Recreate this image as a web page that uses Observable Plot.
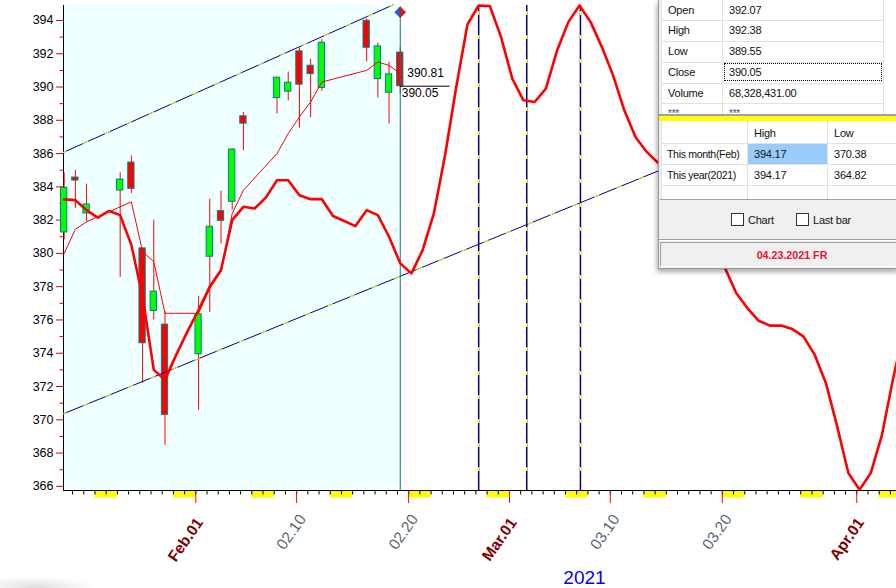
<!DOCTYPE html>
<html><head><meta charset="utf-8">
<script src="https://cdn.jsdelivr.net/npm/d3@7"></script>
<script src="https://cdn.jsdelivr.net/npm/@observablehq/plot@0.6"></script>
<style>
body{margin:0;overflow:hidden;background:#fff}
#wrap{position:relative;width:896px;height:588px;overflow:hidden;font-family:Arial,"Liberation Sans",sans-serif}
#chart{position:absolute;left:0;top:0}
#panel{position:absolute;left:0;top:0}
#shadow{position:absolute;left:0;top:572px;width:110px;height:16px;background:radial-gradient(ellipse 60px 12px at 35px 16px,rgba(0,0,0,.13),rgba(0,0,0,0))}
</style></head>
<body><div id="wrap"><div id="chart"></div><div id="shadow"></div><div id="panel"></div></div>
<script>
(function(){
const DAY = 864e5;
// ---------- data ----------
const candleDates = ["2021-01-20","2021-01-21","2021-01-22","2021-01-25","2021-01-26","2021-01-27","2021-01-28","2021-01-29","2021-02-01","2021-02-02","2021-02-03","2021-02-04","2021-02-05","2021-02-08","2021-02-09","2021-02-10","2021-02-11","2021-02-12","2021-02-16","2021-02-17","2021-02-18","2021-02-19"];
const openV  = [381.26,384.56,382.40,383.78,385.46,380.30,376.54,375.72,373.94,379.80,382.54,383.10,388.24,389.34,389.72,392.14,391.28,389.94,393.98,390.48,389.66,392.07];
const highV  = [384.84,385.00,384.16,384.84,385.86,380.30,382.00,376.50,377.40,383.26,383.74,386.30,388.48,390.60,390.90,392.34,391.66,392.86,394.10,392.64,391.48,392.38];
const lowV   = [380.80,382.70,381.90,378.56,383.60,372.20,376.00,368.46,370.56,376.44,380.56,382.60,386.16,388.38,389.16,387.54,388.16,389.74,391.50,389.34,387.78,389.55];
const closeV = [383.94,384.38,382.94,384.44,383.88,374.60,377.70,370.30,376.34,381.60,381.96,386.24,387.80,390.56,390.26,390.14,390.78,392.66,392.36,392.44,390.76,390.05];
const maValues = [380.0,381.45,381.9,382.8,383.1,380.1,379.5,376.4,376.4,377.9,378.9,382.4,383.8,386.0,387.2,388.2,389.1,390.3,391.0,391.5,391.3,390.81];
const forecastStart = "2021-01-20";
const forecastValues = [383.25,383.2,382.6,382.15,382.55,382.3,380.5,377.4,373.0,372.4,373.9,375.3,376.6,378.0,379.0,382.0,382.8,382.7,383.35,384.4,384.4,383.5,383.26,383.26,382.25,381.95,381.64,382.6,382.3,381.0,379.4,378.8,380.2,382.4,385.9,390.0,393.76,394.9,394.86,393.0,390.5,389.2,389.1,389.9,392.2,393.9,394.9,393.9,392.4,390.7,388.6,387.0,386.1,385.45,384.7,383.7,382.5,381.3,380.2,379.1,377.6,376.7,375.95,375.66,375.66,375.45,375.0,373.9,372.2,369.6,366.8,365.8,366.8,369.1,372.5,375.5];
const upperChannelDates = ["2021-01-20T00:00Z","2021-02-18T15:00Z"];
const upperChannelValues = [386.02,394.94];
const lowerChannelDates = ["2021-01-20T00:00Z","2021-03-16T00:00Z"];
const lowerChannelValues = [370.31,385.43];
const turnDates = ["2021-02-26T06:00Z","2021-03-02T13:00Z","2021-03-07T08:00Z"];
const markerValue = 394.5;
const maLabel = "390.81";
const closeLabel = "390.05";
const tickDates = ["2021-02-01","2021-02-10","2021-02-20","2021-03-01","2021-03-10","2021-03-20","2021-04-01"];
const tickLabels = ["Feb.01","02.10","02.20","Mar.01","03.10","03.20","Apr.01"];
const yMajor = [366,368,370,372,374,376,378,380,382,384,386,388,390,392,394];
const yMinor = [367,369,371,373,375,377,379,381,383,385,387,389,391,393];
const yearLabel = "2021";
const xDomain = [new Date("2021-01-20T04:35Z"), new Date("2021-04-04T13:06Z")];
const yDomain = [365.75, 394.96];
// ---------- build ----------
const barTime = s => new Date(s + "T06:00:00Z");
const candles = candleDates.map((d,i)=>({t: barTime(d), o: openV[i], h: highV[i], l: lowV[i], c: closeV[i], ma: maValues[i]}));
const up = candles.filter(d => d.c >= d.o), down = candles.filter(d => d.c < d.o);
const forecast = forecastValues.map((v,i)=>({t: new Date(+barTime(forecastStart) + i*DAY), v}));
const upper = upperChannelDates.map((d,i)=>({t:new Date(d), v:upperChannelValues[i]}));
const lower = lowerChannelDates.map((d,i)=>({t:new Date(d), v:lowerChannelValues[i]}));
const turns = turnDates.map(d=>new Date(d));
const last = candles[candles.length-1];
const days = d3.utcDay.range(d3.utcDay.ceil(xDomain[0]), xDomain[1]);
const sats = d3.utcSaturday.range(xDomain[0], xDomain[1]);
const ticks = tickDates.map((d,i)=>({t:new Date(d+"T00:00Z"), s:tickLabels[i], month: /[A-Za-z]/.test(tickLabels[i])}));
const NAVY = "#000080", YEL = "#ffff00", RED = "#ff0000", TEAL = "#008080";
const halfL = {draw(ctx,size){const r=Math.sqrt(size/Math.PI);ctx.moveTo(0,-r);ctx.lineTo(-r,0);ctx.lineTo(0,r);ctx.closePath();}};
const halfR = {draw(ctx,size){const r=Math.sqrt(size/Math.PI);ctx.moveTo(0,-r);ctx.lineTo(r,0);ctx.lineTo(0,r);ctx.closePath();}};

const chart = Plot.plot({
  width: 896, height: 588,
  marginLeft: 63, marginRight: 0, marginTop: 4, marginBottom: 98,
  x: {type: "utc", domain: xDomain, axis: null},
  y: {domain: yDomain},
  style: {fontFamily: "Arial, 'Liberation Sans', sans-serif", fontSize: "12px", background: "white", overflow: "hidden"},
  marks: [
    Plot.rect([last], {x1: () => xDomain[0], x2: d => d.t, fill: "#f0ffff"}),
    Plot.rect(sats, {x1: d => d, x2: d => d3.utcDay.offset(d, 2), fill: YEL, insetTop: 487, insetBottom: -7.5}),
    Plot.ruleX(days, {x: d => d, stroke: "#000", insetTop: 486, insetBottom: -4.5}),
    Plot.ruleX(ticks, {x: "t", stroke: RED, insetTop: 486, insetBottom: -13}),
    Plot.ruleY([yDomain[0]], {stroke: "#000"}),
    Plot.ruleX([xDomain[0]], {stroke: "#000", insetTop: 1}),
    Plot.axisY(yMajor, {anchor: "left", tickSize: 7, tickPadding: 3, stroke: "#e00000", fill: "#000", fontSize: 12.5, label: null}),
    Plot.axisY(yMinor, {anchor: "left", tickSize: 3.5, stroke: "#e00000", fill: "none", label: null}),
    // candles
    Plot.ruleX(candles, {x: "t", y1: "l", y2: "h", stroke: RED}),
    Plot.rect(up, {x1: d => new Date(+d.t - 0.28*DAY), x2: d => new Date(+d.t + 0.28*DAY), y1: "o", y2: "c", fill: "#00ff00", stroke: TEAL}),
    Plot.rect(down, {x1: d => new Date(+d.t - 0.28*DAY), x2: d => new Date(+d.t + 0.28*DAY), y1: "o", y2: "c", fill: RED, stroke: TEAL}),
    // channels
    Plot.line(upper, {x: "t", y: "v", stroke: NAVY, strokeWidth: 1, clip: true}),
    Plot.line(upper, {x: "t", y: "v", stroke: YEL, strokeWidth: 1, strokeDasharray: "5,19", clip: true}),
    Plot.line(lower, {x: "t", y: "v", stroke: NAVY, strokeWidth: 1, clip: true}),
    Plot.line(lower, {x: "t", y: "v", stroke: YEL, strokeWidth: 1, strokeDasharray: "5,19", clip: true}),
    Plot.ruleX(turns, {x: d => d, stroke: NAVY, strokeWidth: 1.5, insetTop: 1}),
    Plot.ruleX(turns, {x: d => d, stroke: YEL, strokeWidth: 1.5, strokeDasharray: "4,20", strokeDashoffset: -6, insetTop: 1}),
    // last bar marker
    Plot.ruleX([last], {x: "t", y1: markerValue, y2: yDomain[0], stroke: TEAL}),
    // lines
    Plot.line(candles, {x: "t", y: "ma", stroke: RED, strokeWidth: 1}),
    Plot.line(forecast, {x: "t", y: "v", stroke: RED, strokeWidth: 2.6, clip: true}),
    Plot.dot([last], {x: "t", y: () => markerValue, r: 5.5, symbol: halfL, fill: "#2a5fd8", stroke: "#1a3a90", strokeWidth: 0.6}),
    Plot.dot([last], {x: "t", y: () => markerValue, r: 5.5, symbol: halfR, fill: "#e01a1a", stroke: "#902020", strokeWidth: 0.6}),
    Plot.ruleY([last], {y: "c", x1: "t", x2: d => new Date(+d.t + 4.45*DAY), stroke: "#000"}),
    Plot.text([last], {x: "t", y: "ma", text: () => maLabel, dx: 7, textAnchor: "start", fontSize: 12, fill: "#000"}),
    Plot.text([last], {x: "t", y: "c", text: () => closeLabel, dx: 1.5, dy: 2.5, lineAnchor: "top", textAnchor: "start", fontSize: 12, fill: "#000"}),
    // x labels
    Plot.text(ticks.filter(d=>d.month), {x: "t", text: "s", frameAnchor: "bottom", dx: 8, dy: 32, rotate: -55, textAnchor: "end", lineAnchor: "bottom", fontSize: 15.5, fontWeight: "bold", fill: "#800000"}),
    Plot.text(ticks.filter(d=>!d.month), {x: "t", text: "s", frameAnchor: "bottom", dx: 10, dy: 28.5, rotate: -55, textAnchor: "end", lineAnchor: "bottom", fontSize: 15.5, fill: "#5a6672"}),
    Plot.text([yearLabel], {frameAnchor: "bottom-left", dx: 521, dy: 93, text: d => d, textAnchor: "middle", fontSize: 19, fill: "#0000ff"})
  ]
});
document.getElementById("chart").appendChild(chart);

// ---------- info panel ----------
const tableLabels = ["Open","High","Low","Close","Volume","***"];
const tableValues = ["392.07","392.38","389.55","390.05","68,328,431.00","***"];
const rangeHeader = ["","High","Low"];
const rangeRows = [["This month(Feb)","394.17","370.38"],["This year(2021)","394.17","364.82"]];
const statusText = "04.23.2021 FR";
const checkLabels = ["Chart","Last bar"];

const panel = document.getElementById("panel");
function box(x,y,w,h,style){const d=document.createElement("div");d.style.cssText=`position:absolute;left:${x}px;top:${y}px;width:${w}px;height:${h}px;${style||""}`;panel.appendChild(d);return d;}
function txt(x,yc,s,style){const d=document.createElement("div");d.textContent=s;d.style.cssText=`position:absolute;left:${x}px;top:${yc-8}px;height:16px;line-height:16px;white-space:nowrap;font-size:11px;letter-spacing:-0.22px;color:#111;${style||""}`;panel.appendChild(d);return d;}
box(658,0,240,268,"background:#f0f0f0;border-left:1px solid #9a9a9a;border-bottom:1px solid #9a9a9a;box-shadow:-1px 3px 5px rgba(0,0,0,.35)");
box(661,0,235,114,"background:#fff;overflow:hidden");
[20,41,62,82.5,103].forEach(y=>box(661,y,222,1,"background:#e2e2e2"));
[661,722,883].forEach(x=>box(x,0,1,114,"background:#e2e2e2"));
box(724,63,158,17.5,"border:1px dotted #000;box-sizing:border-box");
box(659,114,237,1.5,"background:#a0a0a0");
box(659,115.8,237,5,"background:#ffff00");
tableLabels.forEach((s,i)=>{
  const yc = 9.6 + 20.8*i;
  if (i===5){ txt(668,114,s,"color:#3a4a8a;font-size:10px"); txt(729,114,tableValues[i],"color:#3a4a8a;font-size:10px"); }
  else { txt(668,yc,s); txt(729,yc,tableValues[i]); }
});
box(661,121,235,78,"background:#fff");
box(748,144,79,20,"background:#99ccf9");
[143,164,185].forEach(y=>box(661,y,235,1,"background:#e2e2e2"));
[661,747,827].forEach(x=>box(x,121,1,78,"background:#e2e2e2"));
box(660,198.5,236,1.5,"background:#a0a0a0");
txt(754,133,rangeHeader[1]); txt(834,133,rangeHeader[2]);
rangeRows.forEach((r,i)=>{const yc=154+21*i; txt(667,yc,r[0],"font-size:10.6px;letter-spacing:-0.35px"); txt(754,yc,r[1]); txt(834,yc,r[2]);});
box(731,213,13,13,"border:1px solid #333;box-sizing:border-box;background:#fff");
box(796,213,13,13,"border:1px solid #333;box-sizing:border-box;background:#fff");
txt(748,219.5,checkLabels[0]); txt(813,219.5,checkLabels[1]);
box(659,239,237,1,"background:#a0a0a0"); box(659,240,237,1,"background:#fff");
box(660,242,236,23,"border-top:1px solid #a0a0a0;border-left:1px solid #a0a0a0;border-bottom:1px solid #fff;background:#f0f0f0");
txt(742,254.5,statusText,"width:100px;text-align:center;font-weight:bold;color:#ee1133;font-size:10.7px;letter-spacing:0");
})();
</script></body></html>
